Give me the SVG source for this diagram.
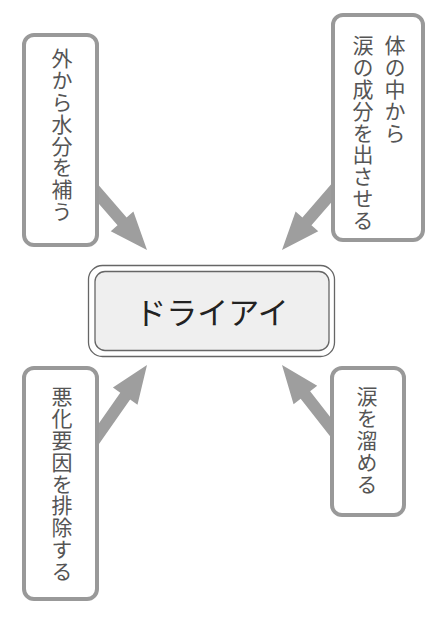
<svg xmlns="http://www.w3.org/2000/svg" width="440" height="617" viewBox="0 0 440 617">
<style>
.box{fill:#fff;stroke:#999;stroke-width:4}
.vt{font-family:"Noto Sans CJK JP","Noto Sans CJK SC",sans-serif;font-size:21px;fill:#555;writing-mode:vertical-rl;letter-spacing:0.8px}
.arr{fill:#9e9e9e}
.main{font-family:"Noto Sans CJK JP","Noto Sans CJK SC",sans-serif;font-size:31px;fill:#222;text-anchor:middle}
</style>
<defs>
<path id="arrow" d="M-95,-6 L-38,-6 L-38,-15 L0,0 L-38,15 L-38,6 L-95,6 Z"/>
</defs>
<rect width="440" height="617" fill="#fff"/>
<g id="connectors" class="arr">
<use href="#arrow" transform="translate(147,250) rotate(49)"/>
<use href="#arrow" transform="translate(282,250) rotate(131)"/>
<use href="#arrow" transform="translate(147,365) rotate(-55)"/>
<use href="#arrow" transform="translate(282,365) rotate(-128)"/>
</g>
<g id="center">
<rect x="88.5" y="265.5" width="246" height="91" rx="14" fill="#fff" stroke="#666" stroke-width="1.3"/>
<rect x="95" y="271.5" width="234" height="79" rx="10" fill="#efefef" stroke="#666" stroke-width="1.3"/>
<text class="main" x="212" y="324">ドライアイ</text>
</g>
<g id="node-tl">
<rect class="box" x="24" y="35" width="73" height="210" rx="10"/>
<text class="vt" x="62" y="48">外から水分を補う</text>
</g>
<g id="node-tr">
<rect class="box" x="333" y="15" width="90" height="225" rx="10"/>
<text class="vt" x="395" y="35">体の中から</text>
<text class="vt" x="363" y="35">涙の成分を出させる</text>
</g>
<g id="node-bl">
<rect class="box" x="24" y="368" width="73" height="231" rx="10"/>
<text class="vt" x="62" y="386">悪化要因を排除する</text>
</g>
<g id="node-br">
<rect class="box" x="332" y="368" width="72" height="147" rx="10"/>
<text class="vt" x="367" y="386">涙を溜める</text>
</g>
</svg>
